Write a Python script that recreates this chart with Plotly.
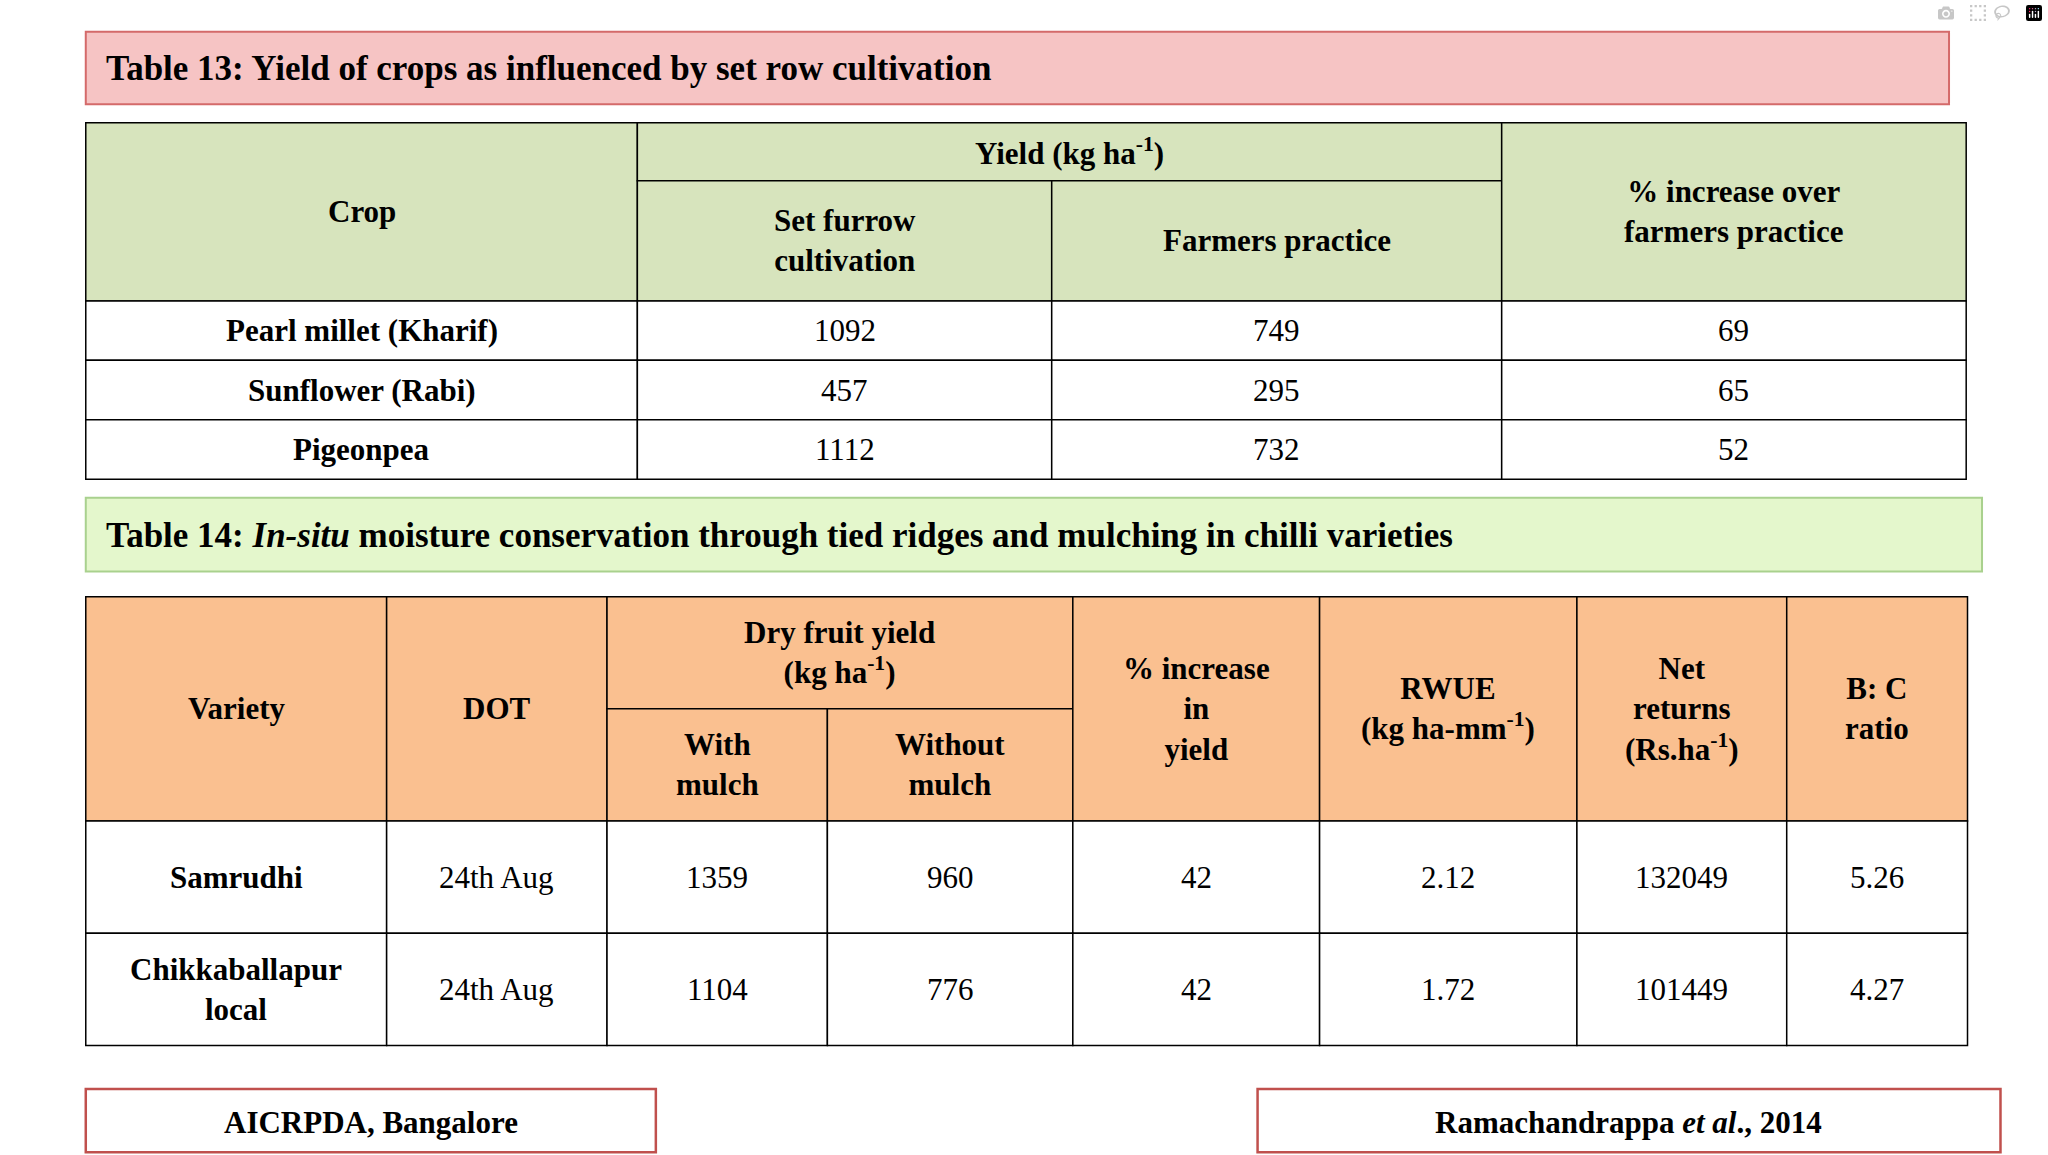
import plotly.graph_objects as go

# ---- data ----
crops = ["Pearl millet (Kharif)", "Sunflower (Rabi)", "Pigeonpea"]
set_furrow = [1092, 457, 1112]
farmers = [749, 295, 732]
pct_increase = [69, 65, 52]

varieties = ["Samrudhi", "Chikkaballapur<br>local"]
dot = ["24th Aug", "24th Aug"]
with_mulch = [1359, 1104]
without_mulch = [960, 776]
pct_yield = [42, 42]
rwue = [2.12, 1.72]
net_returns = [132049, 101449]
bc_ratio = [5.26, 4.27]

W, H = 1552, 875
S = 2048 / W
FONT = "Liberation Serif"
BODY = 31
TITLE = 35

fig = go.Figure()
fig.add_trace(go.Scatter(x=[0, W], y=[0, H], mode="markers", marker=dict(opacity=0), hoverinfo="skip"))
shapes, ann = [], []

def rect(x0, y0, x1, y1, fill="rgba(0,0,0,0)", line="black", lw=1.5):
    shapes.append(dict(type="rect", xref="x", yref="y", x0=x0, y0=y0, x1=x1, y1=y1,
                       fillcolor=fill, line=dict(color=line, width=lw), layer="below"))

def text(x, y, t, size=BODY, bold=False, anchor="center"):
    if bold:
        t = "<b>" + t + "</b>"
    ann.append(dict(xref="x", yref="y", x=x, y=y, text=t, showarrow=False, xanchor=anchor,
                    yanchor="middle", font=dict(family=FONT, size=size, color="black")))

def cell(x0, y0, x1, y1, t, fill="white", bold=False, size=BODY):
    rect(x0, y0, x1, y1, fill)
    text((x0 + x1) / 2, (y0 + y1) / 2, t, size, bold)

# title 1
rect(65, 24, 1477, 79, fill="#f6c4c4", line="#d46a6a", lw=2)
text(79, 52, "Table 13: Yield of crops as influenced by set row cultivation", TITLE, True, "left")

# table 1
xe = [65, 483, 797, 1138, 1490]
g1 = "#d7e4bd"
cell(xe[0], 93, xe[1], 228, "Crop", g1, True)
cell(xe[1], 93, xe[3], 137, "Yield (kg ha<sup>-1</sup>)", g1, True)
cell(xe[1], 137, xe[2], 228, "Set furrow<br>cultivation", g1, True)
cell(xe[2], 137, xe[3], 228, "Farmers practice", g1, True)
cell(xe[3], 93, xe[4], 228, "% increase over<br>farmers practice", g1, True)
ye = [228, 273, 318, 363]
for i in range(3):
    y0, y1 = ye[i], ye[i + 1]
    cell(xe[0], y0, xe[1], y1, crops[i], bold=True)
    cell(xe[1], y0, xe[2], y1, str(set_furrow[i]))
    cell(xe[2], y0, xe[3], y1, str(farmers[i]))
    cell(xe[3], y0, xe[4], y1, str(pct_increase[i]))

# title 2
rect(65, 377, 1502, 433, fill="#e4f7cc", line="#a9d18e", lw=2)
text(79, 406, "Table 14: <i>In-situ</i> moisture conservation through tied ridges and mulching in chilli varieties", TITLE, True, "left")

# table 2
xs = [65, 293, 460, 627, 813, 1000, 1195, 1354, 1491]
o = "#fac090"
cell(xs[0], 452, xs[1], 622, "Variety", o, True)
cell(xs[1], 452, xs[2], 622, "DOT", o, True)
cell(xs[2], 452, xs[4], 537, "Dry fruit yield<br>(kg ha<sup>-1</sup>)", o, True)
cell(xs[2], 537, xs[3], 622, "With<br>mulch", o, True)
cell(xs[3], 537, xs[4], 622, "Without<br>mulch", o, True)
cell(xs[4], 452, xs[5], 622, "% increase<br>in<br>yield", o, True)
cell(xs[5], 452, xs[6], 622, "RWUE<br>(kg ha-mm<sup>-1</sup>)", o, True)
cell(xs[6], 452, xs[7], 622, "Net<br>returns<br>(Rs.ha<sup>-1</sup>)", o, True)
cell(xs[7], 452, xs[8], 622, "B: C<br>ratio", o, True)
yr = [622, 707, 792]
for i in range(2):
    y0, y1 = yr[i], yr[i + 1]
    vals = [dot[i], str(with_mulch[i]), str(without_mulch[i]), str(pct_yield[i]),
            f"{rwue[i]:.2f}", str(net_returns[i]), f"{bc_ratio[i]:.2f}"]
    cell(xs[0], y0, xs[1], y1, varieties[i], bold=True)
    for j, v in enumerate(vals):
        cell(xs[j + 1], y0, xs[j + 2], y1, v)

# footers
rect(65, 825, 497, 873, line="#c0504d", lw=2.5)
text(281, 850, "AICRPDA, Bangalore", BODY, True)
rect(953, 825, 1516, 873, line="#c0504d", lw=2.5)
text(1234, 850, "Ramachandrappa <i>et al</i>., 2014", BODY, True)

fig.update_layout(shapes=shapes, annotations=ann, width=2048, height=1155,
                  margin=dict(l=0, r=0, t=0, b=0), plot_bgcolor="white", paper_bgcolor="white",
                  showlegend=False,
                  xaxis=dict(range=[0, W], visible=False, fixedrange=True),
                  yaxis=dict(range=[H, 0], visible=False, fixedrange=True))
fig.write_html("out.html", post_script="document.body.style.margin='0';document.body.style.overflow='hidden';")
